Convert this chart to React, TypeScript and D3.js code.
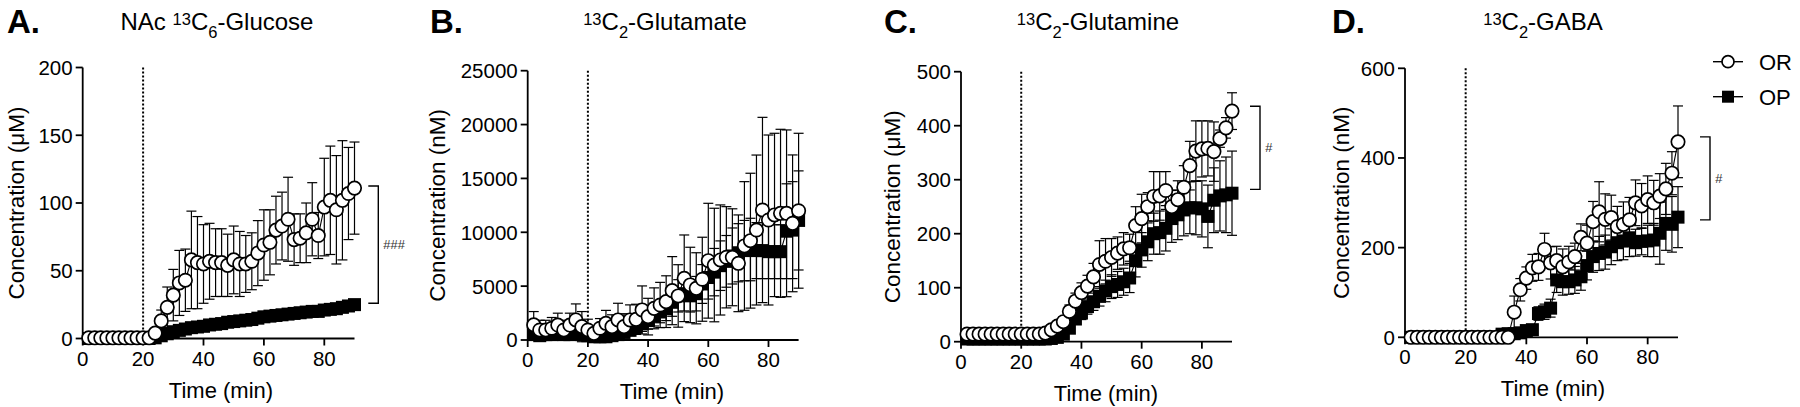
import React from "react";
import * as d3 from "d3";

// ---------------- DATA ----------------
const TIME = [2, 4, 6, 8, 10, 12, 14, 16, 18, 20, 22, 24, 26, 28, 30, 32, 34, 36, 38, 40, 42, 44, 46, 48, 50, 52, 54, 56, 58, 60, 62, 64, 66, 68, 70, 72, 74, 76, 78, 80, 82, 84, 86, 88, 90];

const GLUCOSE_OR_MEAN = [0.5, 0.5, 0.5, 0.5, 0.5, 0.5, 0.5, 0.5, 0.5, 0.5, 0.5, 4, 13, 23, 32, 41, 43, 58, 56, 55, 57, 56, 56, 54, 58, 55, 55, 57, 63, 69, 71, 80, 83, 88, 73, 74, 78, 88, 76, 97, 102, 95, 102, 107, 111];
const GLUCOSE_OR_SEM = [0, 0, 0, 0, 0, 0, 0, 0, 0, 0, 0, 2, 8, 15, 19, 24, 23, 36, 34, 29, 28, 25, 25, 23, 25, 24, 21, 21, 24, 26, 24, 25, 25, 31, 19, 18, 22, 27, 17, 36, 40, 40, 44, 34, 34];
const GLUCOSE_OP_MEAN = [0, 0, 0, 0, 0, 0, 0, 0, 0, 0, 0, 0.5, 2, 3.5, 5, 6, 7, 8, 8.5, 9, 10, 10.5, 11, 12, 12.5, 13, 13.5, 14, 15, 16, 16.5, 17, 17.5, 18, 18.5, 19, 19.5, 20, 20, 21, 21.5, 22, 23, 24, 25];
const GLUCOSE_OP_SEM = [0, 0, 0, 0, 0, 0, 0, 0, 0, 0, 0, 0.5, 1, 1.5, 2, 2, 2, 2, 2, 2, 2, 2, 2, 2, 2, 2, 2, 2.5, 2.5, 2.5, 2.5, 2.5, 2.5, 3, 3, 3, 3, 3, 3, 3, 3, 3, 3, 3.5, 3.5];

const GLUTAMATE_OR_MEAN = [1400, 930, 930, 1090, 1390, 930, 1390, 1860, 1240, 930, 620, 1090, 1550, 1240, 1860, 1240, 1860, 1920, 2790, 2170, 2940, 3250, 3560, 4580, 4090, 5730, 5110, 4800, 5640, 7360, 6960, 7430, 7680, 7680, 7120, 8730, 9220, 10210, 12070, 11140, 11610, 11760, 11760, 10830, 12000];
const GLUTAMATE_OR_SEM = [1240, 900, 900, 1000, 1100, 900, 1100, 1490, 1400, 1000, 600, 900, 1200, 1100, 1550, 1200, 1400, 1400, 2230, 1700, 1900, 2100, 2400, 3160, 2900, 4020, 3500, 3300, 3900, 5330, 5270, 5110, 4700, 4500, 4490, 5970, 6260, 6960, 8600, 7890, 7580, 7800, 7740, 6350, 7190];
const GLUTAMATE_OP_MEAN = [500, 400, 500, 500, 600, 500, 500, 600, 500, 400, 300, 300, 300, 400, 500, 700, 900, 1200, 1500, 1800, 2200, 2600, 2900, 3500, 4100, 4300, 4100, 4300, 5200, 5800, 6300, 6900, 7300, 7800, 8100, 8300, 8400, 8300, 8300, 8200, 8200, 8200, 10100, 10200, 11100];
const GLUTAMATE_OP_SEM = [400, 400, 400, 400, 400, 400, 400, 400, 400, 400, 300, 300, 300, 300, 300, 400, 500, 600, 700, 800, 900, 1000, 1100, 1300, 1500, 1600, 1500, 1600, 1800, 2000, 2200, 2300, 2400, 2600, 2700, 2800, 2900, 2600, 2600, 2500, 2500, 2500, 4400, 4500, 4600];

const GLUTAMINE_OR_MEAN = [14, 14, 14, 14, 14, 14, 14, 14, 14, 14, 14, 14, 14, 16, 22, 29, 37, 56, 75, 91, 103, 120, 143, 149, 156, 164, 172, 174, 215, 228, 250, 269, 270, 280, 250, 263, 286, 326, 353, 357, 358, 352, 376, 396, 427];
const GLUTAMINE_OR_SEM = [3, 3, 3, 3, 3, 3, 3, 3, 3, 3, 3, 3, 3, 3, 5, 7, 9, 12, 15, 18, 20, 25, 44, 42, 35, 30, 30, 25, 35, 45, 26, 46, 45, 35, 30, 35, 40, 45, 56, 52, 51, 55, 16, 19, 34];
const GLUTAMINE_OP_MEAN = [5, 5, 5, 5, 5, 5, 5, 5, 5, 5, 5, 5, 5, 5, 6, 8, 14, 25, 42, 53, 65, 74, 84, 94, 102, 106, 111, 118, 150, 170, 185, 200, 202, 210, 228, 235, 244, 248, 248, 246, 232, 262, 270, 272, 275];
const GLUTAMINE_OP_SEM = [2, 2, 2, 2, 2, 2, 2, 2, 2, 2, 2, 2, 2, 2, 3, 4, 6, 8, 10, 12, 14, 16, 18, 20, 22, 24, 25, 27, 30, 32, 35, 38, 40, 42, 44, 46, 48, 48, 50, 52, 58, 60, 65, 70, 78];

const GABA_OR_MEAN = [0, 0, 0, 0, 0, 0, 0, 0, 0, 0, 0, 0, 0, 0, 0, 0, 0, 56, 106, 132, 155, 157, 196, 166, 171, 157, 168, 180, 223, 210, 258, 280, 263, 267, 247, 252, 262, 300, 293, 307, 300, 315, 331, 366, 436];
const GABA_OR_SEM = [0, 0, 0, 0, 0, 0, 0, 0, 0, 0, 0, 0, 0, 0, 0, 0, 0, 36, 25, 25, 30, 30, 36, 36, 32, 40, 35, 30, 30, 40, 45, 67, 57, 50, 45, 50, 50, 51, 50, 53, 50, 50, 57, 48, 80];
const GABA_OP_MEAN = [0, 0, 0, 0, 0, 0, 0, 0, 0, 0, 0, 0, 0, 0, 0, 7, 8, 8, 10, 15, 17, 53, 57, 65, 128, 124, 124, 128, 135, 160, 180, 187, 190, 202, 211, 215, 222, 211, 214, 215, 217, 232, 254, 252, 268];
const GABA_OP_SEM = [0, 0, 0, 0, 0, 0, 0, 0, 0, 0, 0, 0, 0, 0, 0, 3, 4, 4, 5, 6, 7, 15, 17, 20, 28, 30, 28, 30, 30, 32, 35, 38, 38, 40, 40, 42, 42, 30, 30, 35, 37, 69, 60, 62, 68];

const X_TICKS = [0, 20, 40, 60, 80];
const X_MAX = 90;
const INJECTION_TIME = 20;
const GLUCOSE_Y_TICKS = [0, 50, 100, 150, 200];
const GLUTAMATE_Y_TICKS = [0, 5000, 10000, 15000, 20000, 25000];
const GLUTAMINE_Y_TICKS = [0, 100, 200, 300, 400, 500];
const GABA_Y_TICKS = [0, 200, 400, 600];

const SERIES_NAMES = ["OR", "OP"];
const PANEL_LETTERS = ["A.", "B.", "C.", "D."];
const Y_LABELS = ["Concentration (\u03bcM)", "Concentration (nM)", "Concentration (\u03bcM)", "Concentration (nM)"];
const X_LABEL = "Time (min)";
// title segments: [text, kind]  kind: n = normal, sup, sub
const TITLES: [string, string][][] = [
  [["NAc ", "n"], ["13", "sup"], ["C", "n"], ["6", "sub"], ["-Glucose", "n"]],
  [["13", "sup"], ["C", "n"], ["2", "sub"], ["-Glutamate", "n"]],
  [["13", "sup"], ["C", "n"], ["2", "sub"], ["-Glutamine", "n"]],
  [["13", "sup"], ["C", "n"], ["2", "sub"], ["-GABA", "n"]],
];
// significance brackets: [top value, bottom value, label]
const BRACKET_VALUES: ([number, number, string] | null)[] = [
  [112.5, 26, "###"],
  null,
  [436, 282, "#"],
  [447, 262, "#"],
];

// ---------------- LAYOUT ----------------
const FONT = "'Liberation Sans', Arial, Helvetica, sans-serif";
const LAYOUT = [
  { left: 82.7, width: 271.8, top: 67.5, bottom: 338.5, letterX: 7, titleX: 217, ylabelX: 16, xlabelX: 221, bracketX: 378.3, bracketTextX: 383 },
  { left: 527.7, width: 270.9, top: 70.7, bottom: 340, letterX: 430, titleX: 665, ylabelX: 437, xlabelX: 672, bracketX: 0, bracketTextX: 0 },
  { left: 961, width: 271, top: 71.7, bottom: 341.7, letterX: 884, titleX: 1098, ylabelX: 892, xlabelX: 1106, bracketX: 1260, bracketTextX: 1265 },
  { left: 1405, width: 273, top: 68.3, bottom: 337.3, letterX: 1332, titleX: 1543, ylabelX: 1341, xlabelX: 1553, bracketX: 1710, bracketTextX: 1715 },
];

const PANELS = [
  { yTicks: GLUCOSE_Y_TICKS, or: [GLUCOSE_OR_MEAN, GLUCOSE_OR_SEM], op: [GLUCOSE_OP_MEAN, GLUCOSE_OP_SEM] },
  { yTicks: GLUTAMATE_Y_TICKS, or: [GLUTAMATE_OR_MEAN, GLUTAMATE_OR_SEM], op: [GLUTAMATE_OP_MEAN, GLUTAMATE_OP_SEM] },
  { yTicks: GLUTAMINE_Y_TICKS, or: [GLUTAMINE_OR_MEAN, GLUTAMINE_OR_SEM], op: [GLUTAMINE_OP_MEAN, GLUTAMINE_OP_SEM] },
  { yTicks: GABA_Y_TICKS, or: [GABA_OR_MEAN, GABA_OR_SEM], op: [GABA_OP_MEAN, GABA_OP_SEM] },
];

const R = 6.7;
const SQ = 13;
const CAP = 5;

function ErrorBars({ x, y, mean, sem }: any) {
  return (
    <g stroke="#000" strokeWidth={1.2} fill="none">
      {TIME.map((t, i) => {
        if (!sem[i]) return null;
        const cx = x(t);
        const y1 = y(mean[i] + sem[i]);
        const y2 = y(mean[i] - sem[i]);
        return (
          <g key={i}>
            <line x1={cx} x2={cx} y1={y1} y2={y2} />
            <line x1={cx - CAP} x2={cx + CAP} y1={y1} y2={y1} />
            <line x1={cx - CAP} x2={cx + CAP} y1={y2} y2={y2} />
          </g>
        );
      })}
    </g>
  );
}

function Title({ segs, x }: any) {
  const out: any[] = [];
  let shift = 0;
  segs.forEach(([txt, kind]: [string, string], i: number) => {
    const target = kind === "sup" ? -5 : kind === "sub" ? 8 : 0;
    const dy = target - shift;
    shift = target;
    out.push(
      <tspan key={i} dy={dy} fontSize={kind === "n" ? 24 : 16.5}>
        {txt}
      </tspan>
    );
  });
  return (
    <text x={x} y={29.5} textAnchor="middle" fontFamily={FONT} fontSize={24} fill="#000" style={{ whiteSpace: "pre" }}>
      {out}
    </text>
  );
}

function Panel({ idx }: { idx: number }) {
  const L = LAYOUT[idx];
  const P = PANELS[idx];
  const yMax = P.yTicks[P.yTicks.length - 1];
  const x = d3.scaleLinear().domain([0, X_MAX]).range([L.left, L.left + L.width]);
  const y = d3.scaleLinear().domain([0, yMax]).range([L.bottom, L.top]);
  const line = d3
    .line<number>()
    .x((_, i) => x(TIME[i]))
    .y((d) => y(d));
  const [orMean, orSem] = P.or;
  const [opMean, opSem] = P.op;
  const br = BRACKET_VALUES[idx];
  const fmt = d3.format("d");

  return (
    <g>
      <text x={L.letterX} y={33} fontFamily={FONT} fontWeight="bold" fontSize={33} fill="#000">
        {PANEL_LETTERS[idx]}
      </text>
      <Title segs={TITLES[idx]} x={L.titleX} />
      {/* axes */}
      <g stroke="#000" strokeWidth={1.8} fill="none">
        <line x1={x(0)} x2={x(0)} y1={y(yMax)} y2={y(0)} />
        <line x1={x(0)} x2={x(X_MAX)} y1={y(0)} y2={y(0)} />
        {P.yTicks.map((v) => (
          <line key={"yt" + v} x1={x(0) - 7} x2={x(0)} y1={y(v)} y2={y(v)} />
        ))}
        {X_TICKS.map((v) => (
          <line key={"xt" + v} x1={x(v)} x2={x(v)} y1={y(0)} y2={y(0) + 7} />
        ))}
      </g>
      <g fontFamily={FONT} fontSize={20.5} fill="#000">
        {P.yTicks.map((v) => (
          <text key={"yl" + v} x={x(0) - 10} y={y(v)} dy="0.36em" textAnchor="end">
            {fmt(v)}
          </text>
        ))}
        {X_TICKS.map((v) => (
          <text key={"xl" + v} x={x(v)} y={y(0) + 27} textAnchor="middle">
            {fmt(v)}
          </text>
        ))}
      </g>
      <text x={L.xlabelX} y={y(0) + 59} textAnchor="middle" fontFamily={FONT} fontSize={22} fill="#000">
        {X_LABEL}
      </text>
      <text
        transform={`translate(${L.ylabelX},${(L.top + L.bottom) / 2}) rotate(-90)`}
        dy="0.35em"
        textAnchor="middle"
        fontFamily={FONT}
        fontSize={22.5}
        fill="#000"
      >
        {Y_LABELS[idx]}
      </text>
      {/* injection line */}
      <line
        x1={x(INJECTION_TIME)}
        x2={x(INJECTION_TIME)}
        y1={y(yMax)}
        y2={y(0)}
        stroke="#000"
        strokeWidth={2}
        strokeDasharray="2,2"
      />
      {/* OP */}
      <ErrorBars x={x} y={y} mean={opMean} sem={opSem} />
      <path d={line(opMean) || ""} fill="none" stroke="#000" strokeWidth={1.1} />
      {opMean.map((v, i) => (
        <rect key={"sq" + i} x={x(TIME[i]) - SQ / 2} y={y(v) - SQ / 2} width={SQ} height={SQ} fill="#000" />
      ))}
      {/* OR */}
      <ErrorBars x={x} y={y} mean={orMean} sem={orSem} />
      <path d={line(orMean) || ""} fill="none" stroke="#000" strokeWidth={1.1} />
      {orMean.map((v, i) => (
        <circle key={"c" + i} cx={x(TIME[i])} cy={y(v)} r={R} fill="#fff" stroke="#000" strokeWidth={1.7} />
      ))}
      {br && (
        <g>
          <path
            d={`M${L.bracketX - 10},${y(br[0])}H${L.bracketX}V${y(br[1])}H${L.bracketX - 10}`}
            fill="none"
            stroke="#000"
            strokeWidth={1.4}
          />
          <text
            x={L.bracketTextX}
            y={(y(br[0]) + y(br[1])) / 2}
            dy="0.35em"
            fontFamily={FONT}
            fontSize={13}
            fontStyle="italic"
            fill="#333"
          >
            {br[2]}
          </text>
        </g>
      )}
    </g>
  );
}

function Legend() {
  const rows = [61.7, 96.7];
  const x0 = 1713;
  const x1 = 1743;
  const cx = (x0 + x1) / 2;
  return (
    <g>
      {SERIES_NAMES.map((name, i) => (
        <g key={name}>
          <line x1={x0} x2={x1} y1={rows[i]} y2={rows[i]} stroke="#000" strokeWidth={1.4} />
          {i === 0 ? (
            <circle cx={cx} cy={rows[i]} r={6} fill="#fff" stroke="#000" strokeWidth={1.7} />
          ) : (
            <rect x={cx - 6} y={rows[i] - 6} width={12} height={12} fill="#000" />
          )}
          <text x={1759} y={rows[i]} dy="0.36em" fontFamily={FONT} fontSize={22} fill="#000">
            {name}
          </text>
        </g>
      ))}
    </g>
  );
}

export default function App() {
  return (
    <div style={{ position: "absolute", left: 0, top: 0, width: 1800, height: 407, background: "#fff" }}>
      <svg width={1800} height={407} viewBox="0 0 1800 407" style={{ display: "block" }}>
        <rect width={1800} height={407} fill="#fff" />
        {PANELS.map((_, i) => (
          <Panel key={i} idx={i} />
        ))}
        <Legend />
      </svg>
    </div>
  );
}
